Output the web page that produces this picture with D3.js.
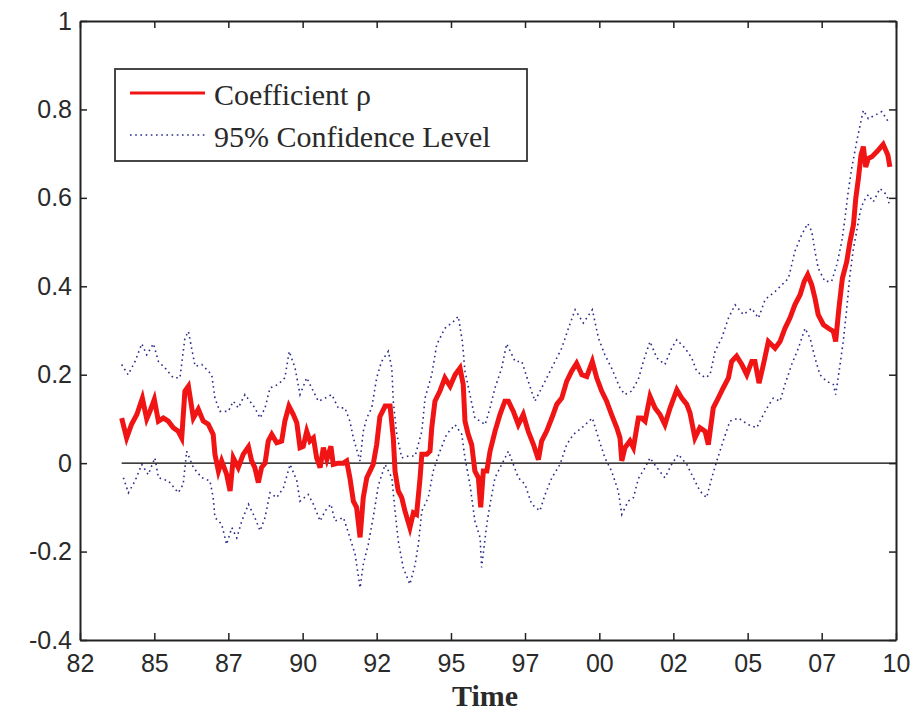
<!DOCTYPE html>
<html lang="en">
<head>
<meta charset="UTF-8">
<title>Coefficient rho</title>
<script src="https://d3js.org/d3.v7.min.js"></script>
<style>
  body { margin: 0; background: #fff; }
  svg text { font-family: "Liberation Sans", Arial, sans-serif; fill: #2a2a2a; }
</style>
</head>
<body>
<svg id="chart" width="918" height="715"></svg>
<script>
// rolling coefficient rho, [decimal year, value]
var rho = [
  [1983.43,0.102],[1983.60,0.057],[1983.77,0.088],[1983.95,0.110],[1984.14,0.147],[1984.29,0.100],[1984.40,0.117],[1984.55,0.144],
  [1984.69,0.095],[1984.86,0.102],[1985.03,0.095],[1985.20,0.080],[1985.37,0.072],[1985.49,0.057],[1985.60,0.163],[1985.72,0.174],
  [1985.89,0.102],[1986.06,0.122],[1986.23,0.095],[1986.40,0.088],[1986.57,0.065],[1986.63,0.020],[1986.75,-0.018],[1986.86,0.005],
  [1987.03,-0.025],[1987.15,-0.063],[1987.26,0.012],[1987.43,-0.010],[1987.60,0.020],[1987.78,0.037],[1987.89,0.005],[1988.00,-0.010],
  [1988.12,-0.044],[1988.23,-0.010],[1988.35,0.000],[1988.46,0.050],[1988.58,0.065],[1988.75,0.046],[1988.92,0.050],[1989.03,0.095],
  [1989.17,0.129],[1989.32,0.110],[1989.44,0.091],[1989.55,0.035],[1989.66,0.038],[1989.78,0.072],[1989.89,0.050],[1990.01,0.057],
  [1990.12,0.012],[1990.24,-0.010],[1990.35,0.035],[1990.47,0.008],[1990.61,0.038],[1990.69,-0.003],[1990.86,0.000],[1991.04,0.000],
  [1991.15,0.005],[1991.26,-0.033],[1991.38,-0.086],[1991.49,-0.100],[1991.61,-0.168],[1991.72,-0.078],[1991.84,-0.033],[1991.95,-0.018],
  [1992.06,-0.003],[1992.18,0.042],[1992.29,0.105],[1992.47,0.129],[1992.64,0.129],[1992.75,0.057],[1992.81,-0.018],[1992.92,-0.063],
  [1993.04,-0.078],[1993.15,-0.108],[1993.32,-0.146],[1993.44,-0.112],[1993.55,-0.116],[1993.67,-0.033],[1993.73,0.020],[1993.90,0.020],
  [1994.01,0.027],[1994.07,0.080],[1994.18,0.140],[1994.35,0.163],[1994.52,0.193],[1994.70,0.174],[1994.87,0.200],[1995.04,0.215],
  [1995.15,0.178],[1995.21,0.095],[1995.32,0.065],[1995.44,0.042],[1995.55,-0.018],[1995.67,-0.033],[1995.75,-0.100],[1995.84,-0.018],
  [1995.96,-0.018],[1996.07,0.027],[1996.24,0.072],[1996.41,0.110],[1996.58,0.140],[1996.70,0.140],[1996.87,0.117],[1997.04,0.087],
  [1997.21,0.110],[1997.38,0.072],[1997.56,0.042],[1997.73,0.008],[1997.84,0.050],[1998.01,0.072],[1998.19,0.102],[1998.36,0.133],
  [1998.53,0.147],[1998.70,0.185],[1998.87,0.208],[1999.04,0.226],[1999.22,0.200],[1999.39,0.196],[1999.58,0.230],[1999.73,0.193],
  [1999.90,0.163],[2000.07,0.140],[2000.24,0.110],[2000.42,0.080],[2000.53,0.057],[2000.59,0.005],[2000.70,0.035],[2000.87,0.050],
  [2000.99,0.035],[2001.16,0.102],[2001.27,0.102],[2001.39,0.095],[2001.56,0.151],[2001.73,0.125],[2001.90,0.110],[2002.07,0.087],
  [2002.25,0.125],[2002.48,0.166],[2002.65,0.147],[2002.82,0.133],[2002.93,0.114],[2003.10,0.057],[2003.27,0.080],[2003.45,0.072],
  [2003.56,0.042],[2003.73,0.125],[2003.90,0.147],[2004.07,0.170],[2004.25,0.193],[2004.36,0.230],[2004.53,0.242],[2004.71,0.223],
  [2004.88,0.200],[2005.05,0.230],[2005.16,0.230],[2005.30,0.181],[2005.45,0.223],[2005.62,0.275],[2005.85,0.260],[2006.02,0.275],
  [2006.19,0.305],[2006.36,0.328],[2006.53,0.358],[2006.71,0.381],[2006.85,0.411],[2006.97,0.426],[2007.11,0.403],[2007.22,0.373],
  [2007.33,0.336],[2007.51,0.313],[2007.68,0.305],[2007.85,0.298],[2007.93,0.275],[2008.04,0.350],[2008.16,0.418],[2008.31,0.456],
  [2008.42,0.501],[2008.54,0.539],[2008.62,0.599],[2008.71,0.644],[2008.80,0.697],[2008.88,0.716],[2008.96,0.670],[2009.05,0.689],
  [2009.17,0.693],[2009.34,0.704],[2009.56,0.721],[2009.72,0.697],[2009.79,0.670]
];

// upper 95% band
var upper = [
  [1983.43,0.223],[1983.65,0.200],[1983.89,0.230],[1984.12,0.270],[1984.29,0.245],[1984.52,0.270],[1984.69,0.230],[1984.92,0.215],
  [1985.20,0.193],[1985.43,0.193],[1985.60,0.283],[1985.72,0.298],[1985.95,0.219],[1986.18,0.223],[1986.52,0.200],[1986.63,0.147],
  [1986.80,0.117],[1987.09,0.117],[1987.26,0.140],[1987.43,0.125],[1987.66,0.155],[1988.00,0.125],[1988.18,0.102],[1988.35,0.125],
  [1988.52,0.170],[1988.80,0.178],[1989.03,0.193],[1989.18,0.253],[1989.38,0.215],[1989.55,0.155],[1989.78,0.193],[1989.95,0.170],
  [1990.18,0.140],[1990.41,0.147],[1990.64,0.155],[1990.86,0.125],[1991.09,0.125],[1991.26,0.095],[1991.38,0.057],[1991.61,0.005],
  [1991.72,0.072],[1991.84,0.102],[1992.01,0.125],[1992.18,0.193],[1992.35,0.230],[1992.58,0.253],[1992.70,0.215],[1992.75,0.140],
  [1992.87,0.065],[1993.04,0.012],[1993.27,0.016],[1993.50,0.016],[1993.73,0.072],[1993.84,0.147],[1994.07,0.200],[1994.24,0.268],
  [1994.52,0.305],[1994.81,0.320],[1994.98,0.332],[1995.12,0.275],[1995.21,0.208],[1995.38,0.155],[1995.55,0.102],[1995.73,0.095],
  [1995.90,0.087],[1996.07,0.125],[1996.24,0.170],[1996.47,0.215],[1996.64,0.270],[1996.93,0.230],[1997.16,0.230],[1997.38,0.185],
  [1997.61,0.140],[1997.84,0.170],[1998.07,0.200],[1998.30,0.230],[1998.53,0.260],[1998.76,0.305],[1998.99,0.347],[1999.27,0.317],
  [1999.58,0.347],[1999.79,0.283],[2000.01,0.245],[2000.24,0.215],[2000.53,0.170],[2000.70,0.155],[2000.93,0.163],[2001.16,0.190],
  [2001.33,0.230],[2001.56,0.275],[2001.79,0.238],[2002.07,0.223],[2002.30,0.260],[2002.48,0.279],[2002.76,0.260],[2002.99,0.238],
  [2003.16,0.208],[2003.45,0.193],[2003.62,0.200],[2003.79,0.253],[2004.02,0.283],[2004.25,0.328],[2004.48,0.358],[2004.76,0.336],
  [2005.05,0.350],[2005.28,0.328],[2005.51,0.370],[2005.85,0.388],[2006.08,0.403],[2006.31,0.418],[2006.53,0.479],[2006.76,0.516],
  [2006.97,0.542],[2007.11,0.524],[2007.22,0.479],[2007.33,0.441],[2007.56,0.411],[2007.79,0.411],[2007.97,0.449],[2008.14,0.501],
  [2008.25,0.554],[2008.36,0.614],[2008.48,0.667],[2008.65,0.727],[2008.77,0.765],[2008.88,0.798],[2009.05,0.779],[2009.28,0.787],
  [2009.51,0.795],[2009.74,0.772]
];

// lower 95% band
var lower = [
  [1983.49,-0.033],[1983.66,-0.067],[1983.89,-0.040],[1984.12,-0.003],[1984.34,-0.026],[1984.57,0.012],[1984.69,-0.033],[1985.03,-0.040],
  [1985.37,-0.067],[1985.54,-0.048],[1985.66,0.027],[1985.89,-0.010],[1986.18,-0.033],[1986.46,-0.040],[1986.57,-0.078],[1986.63,-0.123],
  [1986.86,-0.138],[1987.03,-0.184],[1987.21,-0.146],[1987.38,-0.169],[1987.55,-0.131],[1987.78,-0.093],[1988.00,-0.123],[1988.18,-0.153],
  [1988.35,-0.123],[1988.52,-0.067],[1988.75,-0.078],[1988.98,-0.056],[1989.21,-0.003],[1989.44,-0.040],[1989.55,-0.086],[1989.83,-0.071],
  [1990.01,-0.093],[1990.24,-0.131],[1990.41,-0.108],[1990.61,-0.093],[1990.75,-0.131],[1991.04,-0.123],[1991.26,-0.168],[1991.44,-0.206],
  [1991.61,-0.282],[1991.72,-0.229],[1991.89,-0.184],[1992.06,-0.123],[1992.24,-0.050],[1992.47,-0.003],[1992.70,-0.033],[1992.81,-0.108],
  [1992.92,-0.176],[1993.09,-0.236],[1993.32,-0.274],[1993.50,-0.229],[1993.61,-0.184],[1993.73,-0.108],[1993.95,-0.078],[1994.12,-0.018],
  [1994.35,0.027],[1994.58,0.065],[1994.87,0.087],[1995.10,0.065],[1995.21,0.012],[1995.38,-0.048],[1995.55,-0.131],[1995.73,-0.169],
  [1995.78,-0.236],[1995.96,-0.138],[1996.07,-0.093],[1996.24,-0.033],[1996.47,-0.003],[1996.70,0.027],[1997.04,-0.033],[1997.27,-0.048],
  [1997.50,-0.093],[1997.78,-0.108],[1997.96,-0.071],[1998.19,-0.033],[1998.47,-0.003],[1998.70,0.042],[1998.93,0.065],[1999.22,0.080],
  [1999.58,0.102],[1999.79,0.057],[2000.01,0.012],[2000.24,-0.018],[2000.47,-0.063],[2000.59,-0.116],[2000.81,-0.086],[2000.99,-0.078],
  [2001.16,-0.035],[2001.39,-0.010],[2001.56,0.012],[2001.79,-0.010],[2002.07,-0.033],[2002.30,-0.003],[2002.53,0.020],[2002.82,-0.003],
  [2003.10,-0.040],[2003.27,-0.063],[2003.50,-0.078],[2003.68,-0.033],[2003.85,0.005],[2004.07,0.050],[2004.30,0.095],[2004.59,0.102],
  [2004.93,0.087],[2005.22,0.080],[2005.45,0.110],[2005.62,0.130],[2005.79,0.147],[2006.02,0.140],[2006.19,0.178],[2006.42,0.223],
  [2006.65,0.260],[2006.88,0.305],[2007.05,0.283],[2007.22,0.238],[2007.39,0.200],[2007.62,0.185],[2007.85,0.178],[2007.93,0.155],
  [2008.08,0.223],[2008.19,0.275],[2008.31,0.350],[2008.42,0.426],[2008.54,0.486],[2008.65,0.524],[2008.77,0.569],[2008.88,0.591],
  [2009.05,0.607],[2009.22,0.591],[2009.45,0.621],[2009.68,0.607],[2009.76,0.588]
];

var xTickYears = [1982, 1984.55, 1987.09, 1989.64, 1992.18, 1994.73, 1997.27, 1999.82, 2002.36, 2004.91, 2007.45, 2010];
var xTickLabels = ["82", "85", "87", "90", "92", "95", "97", "00", "02", "05", "07", "10"];
var yTicks = [1, 0.8, 0.6, 0.4, 0.2, 0, -0.2, -0.4];
var yTickLabels = ["1", "0.8", "0.6", "0.4", "0.2", "0", "-0.2", "-0.4"];
var legendLabels = ["Coefficient \u03c1", "95% Confidence Level"];

var svg = d3.select("#chart");
// plot box (window.top is reserved, so no bare "top")
var box = { left: 80, right: 896, top: 21, bottom: 640 };

var x = d3.scaleLinear().domain([1982, 2010]).range([box.left, box.right]);
var y = d3.scaleLinear().domain([-0.4, 1]).range([box.bottom, box.top]);

var line = d3.line()
  .x(function(d) { return x(d[0]); })
  .y(function(d) { return y(d[1]); });

var plot = svg.append("g");

// confidence bands (dotted)
[upper, lower].forEach(function(band) {
  plot.append("path")
    .datum(band)
    .attr("d", line)
    .attr("fill", "none")
    .attr("stroke", "#2b2b8c")
    .attr("stroke-width", 1.6)
    .attr("stroke-dasharray", "1.6,3.6");
});

// zero reference line
plot.append("path")
  .datum([[rho[0][0], 0], [2010, 0]])
  .attr("d", line)
  .attr("fill", "none")
  .attr("stroke", "#000")
  .attr("stroke-width", 1.2);

// coefficient
plot.append("path")
  .datum(rho)
  .attr("d", line)
  .attr("fill", "none")
  .attr("stroke", "#f01414")
  .attr("stroke-width", 5)
  .attr("stroke-linejoin", "miter");

// axes, ticks pointing inward
var fmtX = function(d, i) { return xTickLabels[i]; };
var fmtY = function(d, i) { return yTickLabels[i]; };

var gBottom = svg.append("g").attr("transform", "translate(0," + box.bottom + ")")
  .call(d3.axisBottom(x).tickValues(xTickYears).tickFormat(fmtX).tickSizeInner(-7).tickSizeOuter(0).tickPadding(14));
var gLeft = svg.append("g").attr("transform", "translate(" + box.left + ",0)")
  .call(d3.axisLeft(y).tickValues(yTicks).tickFormat(fmtY).tickSizeInner(-7).tickSizeOuter(0).tickPadding(8));
var gTop = svg.append("g").attr("transform", "translate(0," + box.top + ")")
  .call(d3.axisTop(x).tickValues(xTickYears).tickFormat("").tickSizeInner(-7).tickSizeOuter(0));
var gRight = svg.append("g").attr("transform", "translate(" + box.right + ",0)")
  .call(d3.axisRight(y).tickValues(yTicks).tickFormat("").tickSizeInner(-7).tickSizeOuter(0));

[gBottom, gLeft, gTop, gRight].forEach(function(g) {
  g.selectAll("path.domain").attr("stroke", "#222").attr("stroke-width", 2);
  g.selectAll(".tick line").attr("stroke", "#222").attr("stroke-width", 1.5);
  g.selectAll(".tick text").style("font-size", "25px").attr("fill", "#2a2a2a")
    .style("font-family", "'Liberation Sans', Arial, sans-serif");
});

// x axis title
svg.append("text")
  .attr("x", 485)
  .attr("y", 706)
  .attr("text-anchor", "middle")
  .style("font-family", "'Liberation Serif', 'Times New Roman', serif")
  .style("font-weight", "bold")
  .style("font-size", "30px")
  .attr("fill", "#111")
  .text("Time");

// legend
var legend = svg.append("g");
legend.append("rect")
  .attr("x", 115).attr("y", 69).attr("width", 412).attr("height", 92)
  .attr("fill", "#fff").attr("stroke", "#333").attr("stroke-width", 1.8);

var legendRows = [
  { label: legendLabels[0], color: "#f01414", width: 3, dash: null, ly: 93 },
  { label: legendLabels[1], color: "#2b2b8c", width: 1.6, dash: "1.6,3.6", ly: 135 }
];
legendRows.forEach(function(r) {
  legend.append("line")
    .attr("x1", 130).attr("x2", 205).attr("y1", r.ly).attr("y2", r.ly)
    .attr("stroke", r.color).attr("stroke-width", r.width)
    .attr("stroke-dasharray", r.dash);
  legend.append("text")
    .attr("x", 214).attr("y", r.ly + 12)
    .style("font-family", "'Liberation Serif', 'Times New Roman', serif")
    .style("font-size", "30px")
    .attr("fill", "#333")
    .text(r.label);
});
</script>
</body>
</html>
